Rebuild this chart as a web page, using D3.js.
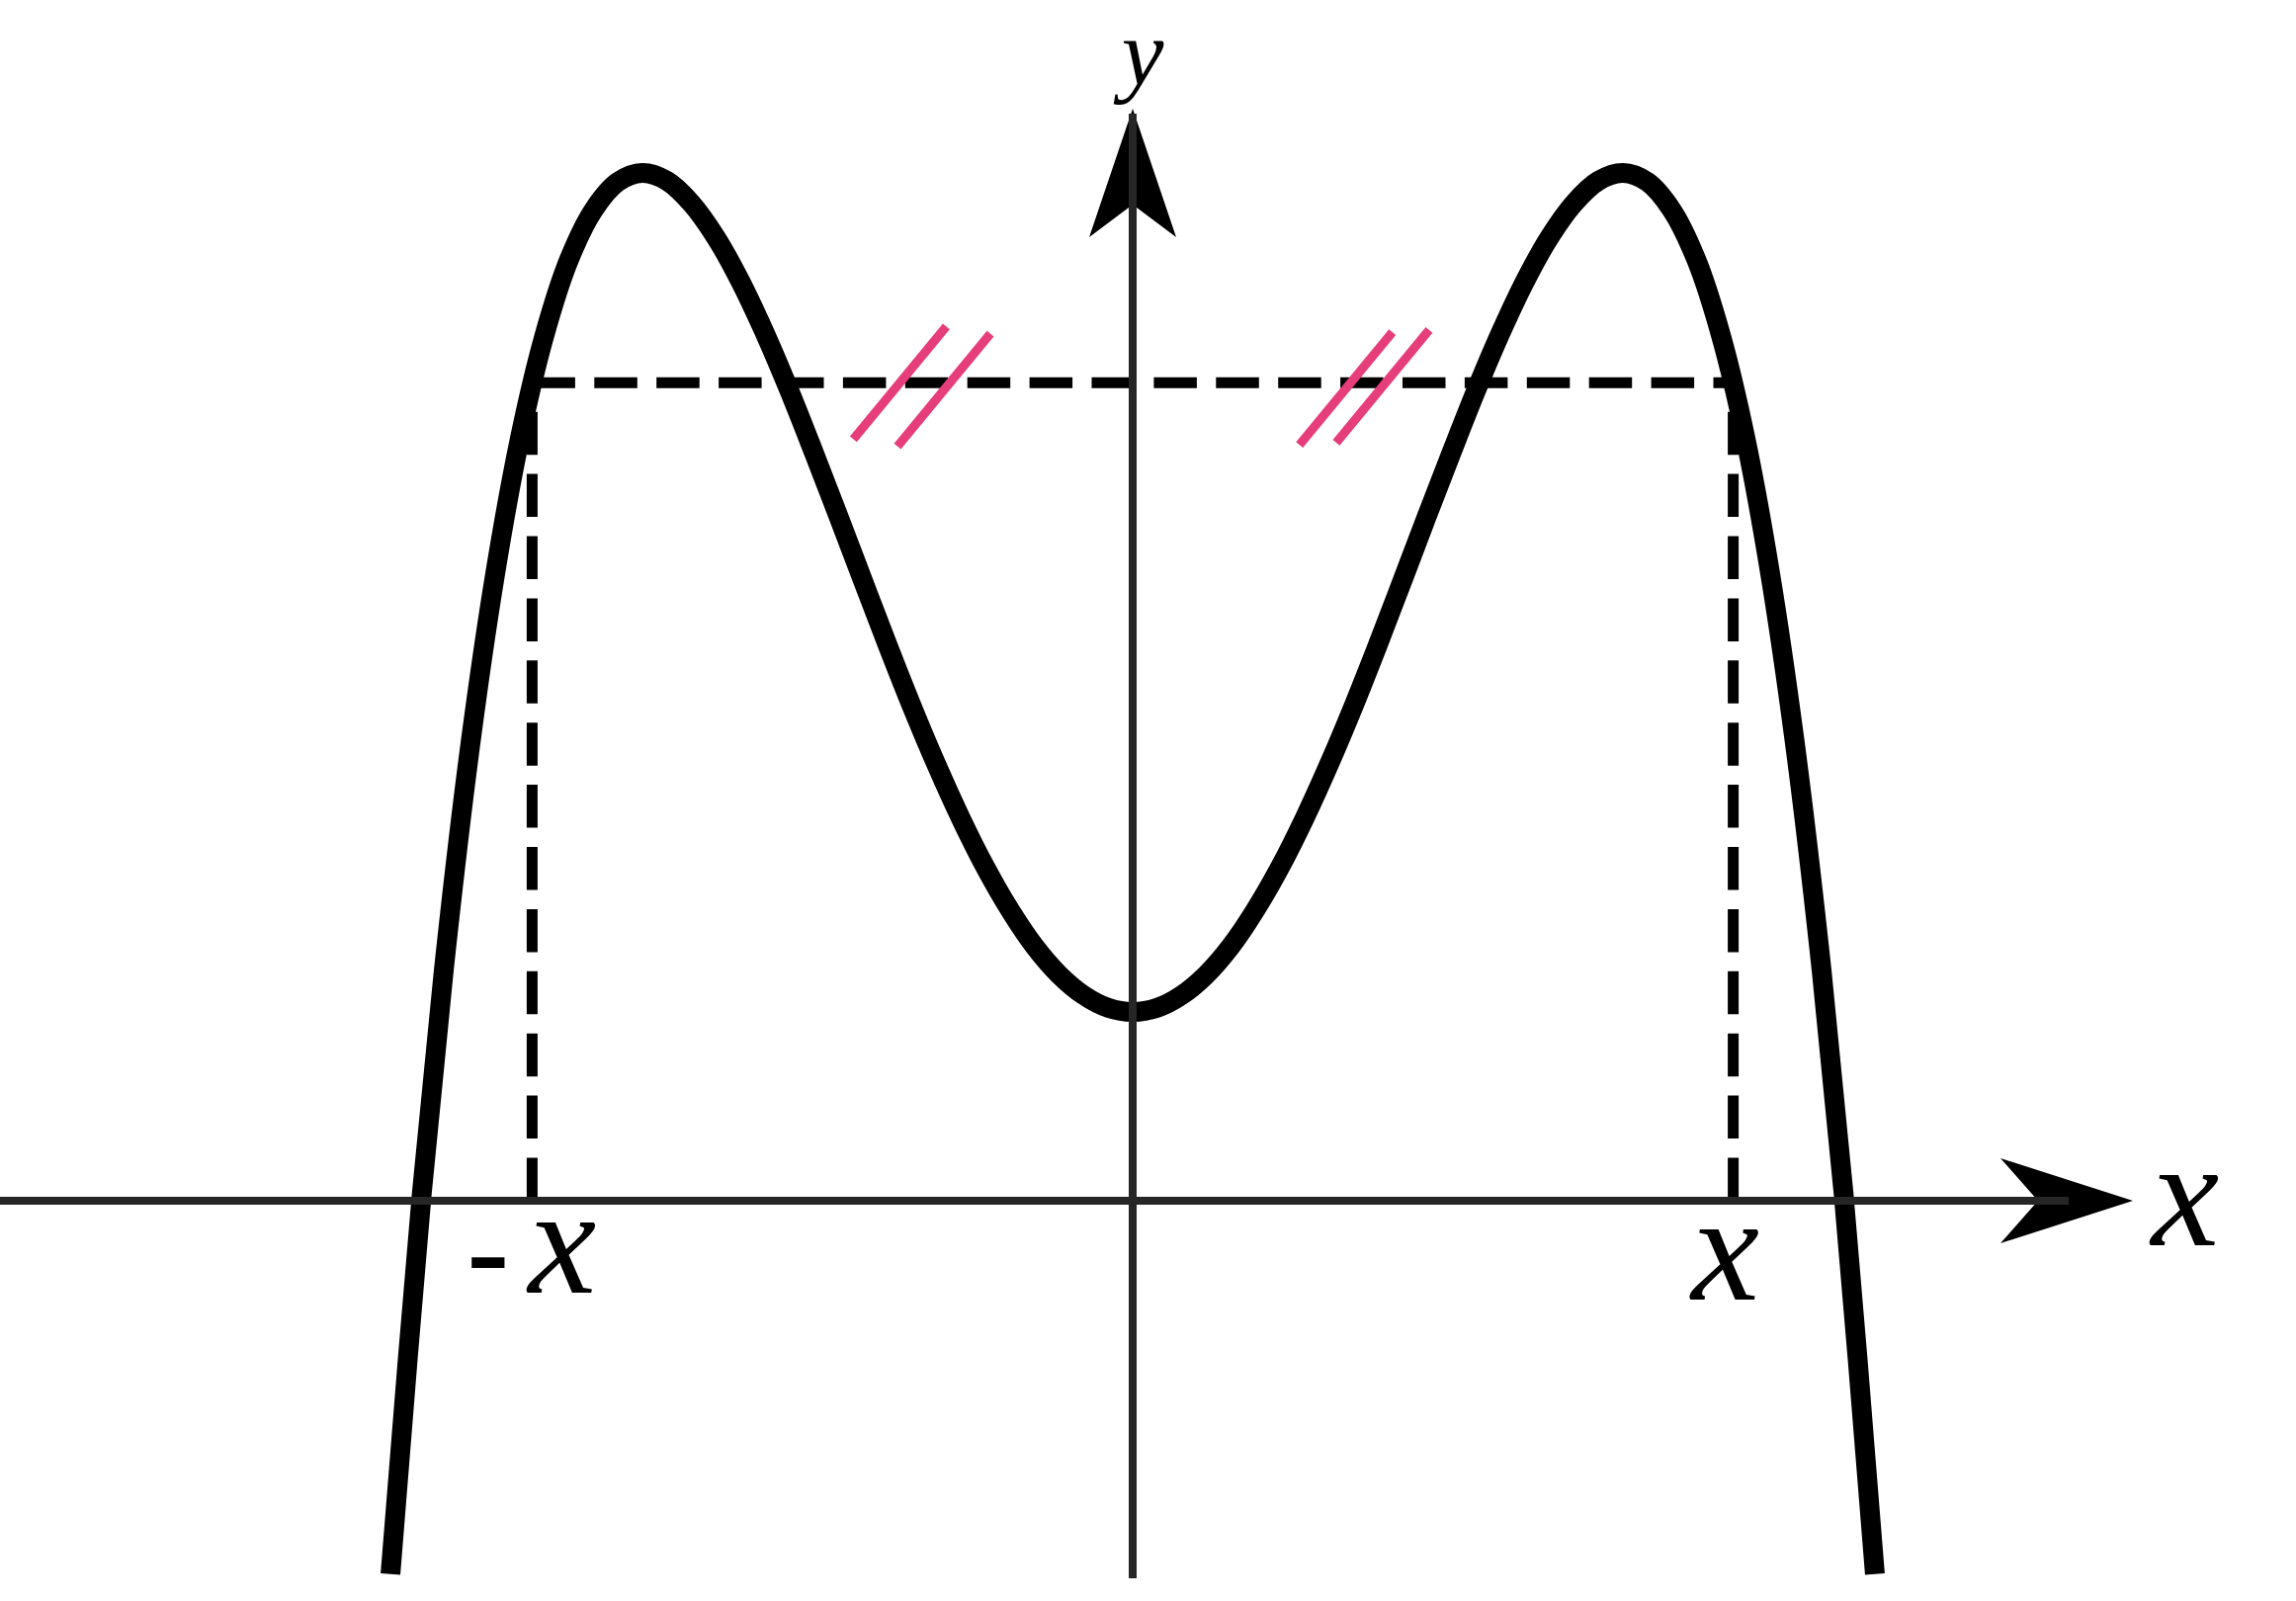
<!DOCTYPE html>
<html>
<head>
<meta charset="utf-8">
<script src="https://cdn.jsdelivr.net/npm/d3@7"></script>
<style>
  html, body { margin: 0; padding: 0; background: #fff; }
  svg { display: block; }
</style>
</head>
<body>
<script>
// ---- data ----
const curveX = [-3.028, -2.9, -2.8, -2.7, -2.6, -2.5, -2.4, -2.3, -2.2, -2.1, -2.0,
  -1.9, -1.8, -1.7, -1.6, -1.5, -1.4, -1.3, -1.2, -1.1, -1.0,
  -0.9, -0.8, -0.7, -0.6, -0.5, -0.4, -0.3, -0.2, -0.1, 0.0,
  0.1, 0.2, 0.3, 0.4, 0.5, 0.6, 0.7, 0.8, 0.9, 1.0,
  1.1, 1.2, 1.3, 1.4, 1.5, 1.6, 1.7, 1.8, 1.9, 2.0,
  2.1, 2.2, 2.3, 2.4, 2.5, 2.6, 2.7, 2.8, 2.9, 3.028];
const curveY = [-7.12, 0.15, 4.85, 8.78, 11.98, 14.54, 16.5, 17.94, 18.89, 19.43, 19.6,
  19.45, 19.02, 18.37, 17.53, 16.54, 15.44, 14.26, 13.05, 11.82, 10.6,
  9.42, 8.31, 7.28, 6.35, 5.54, 4.85, 4.31, 3.92, 3.68, 3.6,
  3.68, 3.92, 4.31, 4.85, 5.54, 6.35, 7.28, 8.31, 9.42, 10.6,
  11.82, 13.05, 14.26, 15.44, 16.54, 17.53, 18.37, 19.02, 19.45, 19.6,
  19.43, 18.89, 17.94, 16.5, 14.54, 11.98, 8.78, 4.85, 0.15, -7.12];
const guideX = [-2.45, 2.45];       // the two marked abscissae
const guideLevel = 15.6;            // common ordinate of the dashed line
const equalMarksX = [-0.95, -0.77, 0.87, 1.02];
const equalMarksY = [15.6, 15.46, 15.49, 15.53];
const tickLabels = ["-x", "x"];
const axisLabels = ["x", "y"];

// ---- layout ----
const W = 2323, H = 1620;
const xs = d3.scaleLinear().domain([-1, 1]).range([1146 - 248, 1146 + 248]);
const ys = d3.scaleLinear().domain([0, 10]).range([1215, 1215 - 530.6]);

const svg = d3.select("body").append("svg")
  .attr("width", W).attr("height", H).attr("viewBox", `0 0 ${W} ${H}`);

const dash = "43.5 19.4";
const pts = curveX.map((x, i) => [x, curveY[i]]);

// dashed guides
guideX.forEach(gx => {
  svg.append("line")
    .attr("x1", xs(gx)).attr("y1", ys(0))
    .attr("x2", xs(gx)).attr("y2", ys(guideLevel))
    .attr("stroke", "#000").attr("stroke-width", 11)
    .attr("stroke-dasharray", dash);
});
svg.append("line")
  .attr("x1", xs(guideX[0])).attr("y1", ys(guideLevel))
  .attr("x2", xs(guideX[1])).attr("y2", ys(guideLevel))
  .attr("stroke", "#000").attr("stroke-width", 11)
  .attr("stroke-dasharray", dash);

// equal-length marks
equalMarksX.forEach((mx, i) => {
  const cx = xs(mx), cy = ys(equalMarksY[i]);
  svg.append("line")
    .attr("x1", cx - 47).attr("y1", cy + 57)
    .attr("x2", cx + 47).attr("y2", cy - 57)
    .attr("stroke", "#e53e7b").attr("stroke-width", 9);
});

// curve
svg.append("path")
  .datum(pts)
  .attr("d", d3.line().x(d => xs(d[0])).y(d => ys(d[1])).curve(d3.curveCatmullRom))
  .attr("fill", "none").attr("stroke", "#000")
  .attr("stroke-width", 20).attr("stroke-linejoin", "round");

// arrowheads
const xEnd = xs.invert(2093), xTip = xs.invert(2158);
const yTop = ys.invert(115), yTip = ys.invert(110), yBottom = ys.invert(1597);
const xTipPx = xs(xTip), axY = ys(0);
svg.append("path")
  .attr("d", `M${xTipPx},${axY} L${xTipPx - 134},${axY - 43} L${xTipPx - 96},${axY} L${xTipPx - 134},${axY + 43} Z`)
  .attr("fill", "#000");
const axX = xs(0), yTipPx = ys(yTip);
svg.append("path")
  .attr("d", `M${axX},${yTipPx} L${axX - 44},${yTipPx + 130} L${axX},${yTipPx + 97} L${axX + 44},${yTipPx + 130} Z`)
  .attr("fill", "#000");

// axes
svg.append("line")
  .attr("x1", 0).attr("y1", axY).attr("x2", xs(xEnd)).attr("y2", axY)
  .attr("stroke", "#262626").attr("stroke-width", 8);
svg.append("line")
  .attr("x1", axX).attr("y1", ys(yBottom)).attr("x2", axX).attr("y2", ys(yTop))
  .attr("stroke", "#262626").attr("stroke-width", 8);

// labels
const font = "'Liberation Serif', 'Times New Roman', serif";
svg.append("text")
  .attr("x", xs(xTip) + 53).attr("y", axY + 45)
  .attr("text-anchor", "middle")
  .attr("font-family", font).attr("font-style", "italic").attr("font-size", 155)
  .attr("fill", "#000").text(axisLabels[0]);
svg.append("text")
  .attr("x", axX + 10).attr("y", 86)
  .attr("text-anchor", "middle")
  .attr("font-family", font).attr("font-style", "italic").attr("font-size", 96)
  .attr("fill", "#000").text(axisLabels[1]);

const lbl = svg.append("text")
  .attr("y", axY + 93)
  .attr("font-family", font).attr("font-size", 155).attr("fill", "#000");
lbl.append("tspan").attr("x", xs(guideX[0]) - 66).attr("font-weight", "bold").attr("font-size", 128).text(tickLabels[0].charAt(0));
lbl.append("tspan").attr("x", xs(guideX[0]) - 4).attr("font-style", "italic").text(tickLabels[0].slice(1));

svg.append("text")
  .attr("x", xs(guideX[1]) - 8).attr("y", axY + 100)
  .attr("text-anchor", "middle")
  .attr("font-family", font).attr("font-style", "italic").attr("font-size", 155)
  .attr("fill", "#000").text(tickLabels[1]);
</script>
</body>
</html>
